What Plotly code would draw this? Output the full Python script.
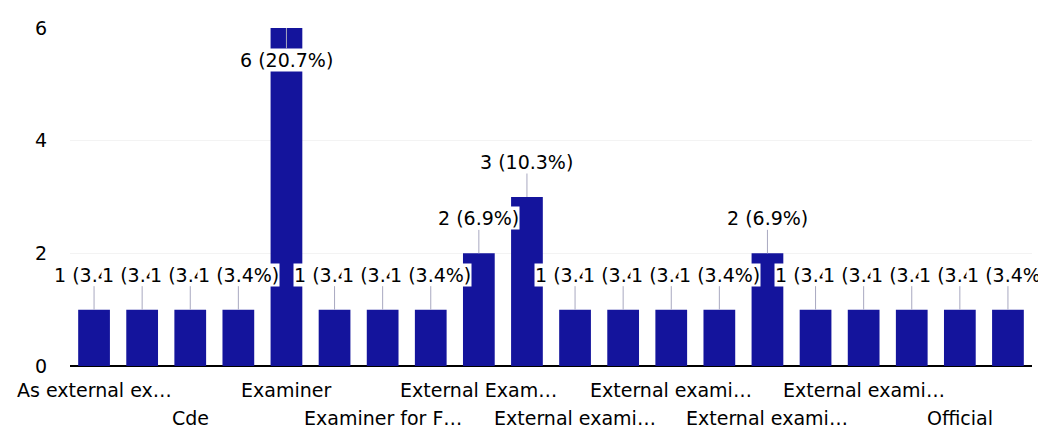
import plotly.graph_objects as go

values = [1, 1, 1, 1, 6, 1, 1, 1, 2, 3, 1, 1, 1, 1, 2, 1, 1, 1, 1, 1]
positions = list(range(len(values)))
label_positions = [0, 2, 4, 6, 8, 10, 12, 14, 16, 18]
labels = ["As external ex…", "Cde", "Examiner", "Examiner for F…", "External Exam…",
          "External exami…", "External exami…", "External exami…", "External exami…", "Official"]
y_ticks = [0, 2, 4, 6]

total = sum(values)
vmax = max(values)
FONT = "DejaVu Sans, Liberation Sans, Arial, sans-serif"

fig = go.Figure()
fig.add_trace(go.Bar(x=positions, y=values, marker_color="#14149c",
                     marker_line_width=0, hoverinfo="skip"))

annotations = []
for x, v in zip(positions, values):
    annotations.append(dict(
        x=x, y=v, xref="x", yref="y",
        text=f"{v} ({v / total * 100:.1f}%)",
        showarrow=True, arrowhead=0, arrowwidth=1, arrowcolor="#a8a8c0",
        ax=0, ay=32 if v == vmax else -35,
        bgcolor="white", borderpad=0,
        font=dict(family=FONT, size=19, color="black"),
    ))

for i, (x, t) in enumerate(zip(label_positions, labels)):
    annotations.append(dict(
        x=x, y=0, xref="x", yref="paper", text=t, showarrow=False,
        yanchor="middle", yshift=-24 if i % 2 == 0 else -52,
        font=dict(family=FONT, size=19, color="black"),
    ))

fig.update_layout(
    width=1038, height=432,
    margin=dict(l=70, r=6, t=28, b=66),
    paper_bgcolor="white", plot_bgcolor="white",
    showlegend=False, bargap=0.34,
    font=dict(family=FONT, size=19, color="black"),
    annotations=annotations,
    xaxis=dict(range=[-0.5, len(values) - 0.5], showticklabels=False,
               showgrid=False, zeroline=False, showline=False),
    yaxis=dict(range=[0, 6], tickvals=y_ticks, showgrid=True, gridcolor="#f3f3f3",
               zeroline=True, zerolinecolor="black", zerolinewidth=2,
               ticks="", ticklabelstandoff=22, showline=False,
               tickfont=dict(family=FONT, size=19, color="black")),
)

fig.write_html("out.html", config={"displayModeBar": False},
               post_script="document.body.style.margin='0';document.body.style.padding='0';")
